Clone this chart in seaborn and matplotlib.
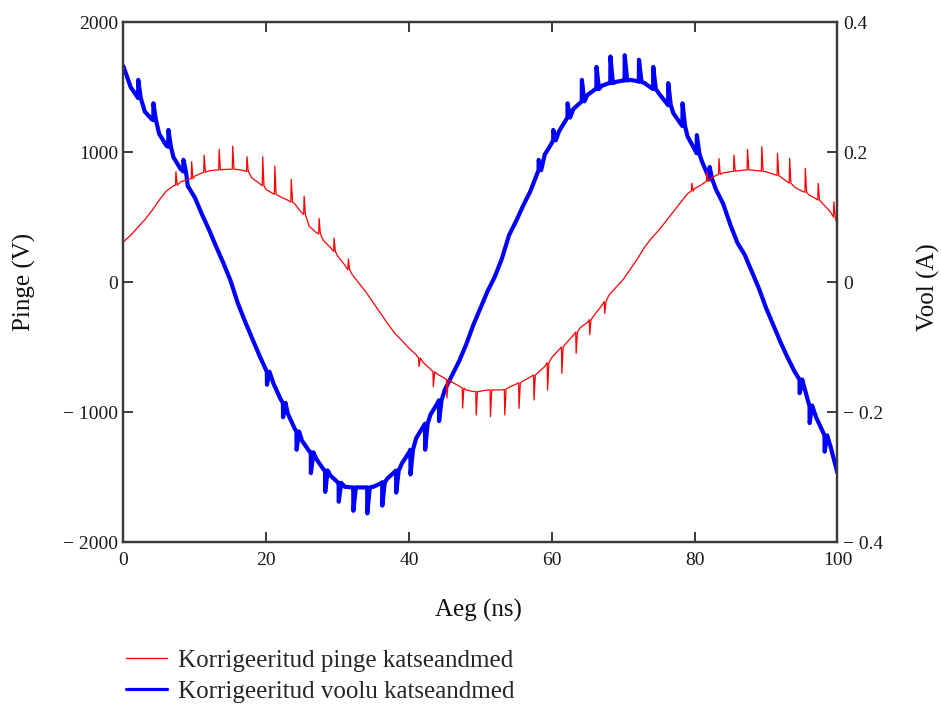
import numpy as np
import pandas as pd
import matplotlib
matplotlib.use("Agg")
import matplotlib.pyplot as plt
import seaborn as sns

# ---------------- data ----------------
# time grid of the smooth part (ns)
t_base = list(range(0, 101))

# corrected voltage (V), smooth part
pinge_base = [
    310, 360, 420, 480, 550, 630, 700, 740, 770, 790,
    815, 840, 855, 862, 866, 868, 866, 855, 800, 760,
    710, 680, 655, 630, 600, 530, 430, 380, 320, 265,
    200, 130, 60, -10, -80, -160, -240, -320, -395, -450,
    -510, -560, -620, -670, -710, -740, -770, -800, -830, -843,
    -840, -830, -830, -830, -810, -785, -760, -730, -700, -650,
    -580, -520, -470, -410, -350, -310, -250, -180, -100, -40,
    20, 100, 180, 270, 340, 400, 470, 540, 610, 680,
    720, 750, 790, 820, 840, 848, 855, 862, 862, 855,
    848, 830, 810, 770, 730, 700, 670, 640, 600, 540,
    430,
]
# voltage spikes: time, peak value, local level
pinge_spike_t = [7.35, 9.55, 11.3, 13.4, 15.3, 17.3, 19.5, 21.2, 23.5, 25.3,
                 27.4, 29.5, 31.5, 41.4, 43.4, 45.3, 47.5, 49.4, 51.4, 53.4,
                 55.4, 57.5, 59.4, 61.4, 63.4, 65.3, 67.4, 79.6, 81.7, 83.4,
                 85.5, 87.4, 89.4, 91.6, 93.3, 95.5, 97.3, 99.5]
pinge_spike_v = [848, 925, 977, 1020, 1046, 964, 964, 892, 790, 662,
                 490, 338, 177, -650, -805, -892, -970, -1023, -1036, -1023,
                 -972, -908, -831, -703, -549, -405, -241, 760, 848, 951,
                 977, 1020, 1041, 990, 951, 874, 759, 618]
pinge_spike_b = [745, 795, 845, 862, 868, 850, 740, 675, 615, 520,
                 370, 235, 95, -585, -690, -750, -815, -842, -830, -825,
                 -775, -715, -620, -500, -385, -290, -150, 700, 775, 828,
                 852, 862, 852, 820, 760, 690, 630, 500]

# corrected current (A), smooth part
vool_base = [
    0.332, 0.300, 0.284, 0.262, 0.250, 0.228, 0.210, 0.192, 0.174, 0.148,
    0.130, 0.104, 0.080, 0.054, 0.029, 0.002, -0.032, -0.060, -0.086, -0.112,
    -0.136, -0.156, -0.180, -0.202, -0.226, -0.244, -0.260, -0.272, -0.288, -0.298,
    -0.308, -0.315, -0.316, -0.316, -0.316, -0.315, -0.310, -0.302, -0.292, -0.279,
    -0.262, -0.240, -0.222, -0.204, -0.186, -0.166, -0.144, -0.122, -0.096, -0.066,
    -0.040, -0.014, 0.008, 0.036, 0.072, 0.094, 0.118, 0.140, 0.168, 0.196,
    0.214, 0.232, 0.250, 0.266, 0.276, 0.288, 0.296, 0.302, 0.306, 0.308,
    0.310, 0.311, 0.309, 0.306, 0.298, 0.290, 0.276, 0.260, 0.244, 0.224,
    0.204, 0.186, 0.160, 0.142, 0.120, 0.088, 0.060, 0.042, 0.016, -0.010,
    -0.040, -0.066, -0.092, -0.116, -0.138, -0.158, -0.188, -0.208, -0.232, -0.252,
    -0.294,
]
# current spikes: time, peak value, local level
vool_spike_t = [2.07, 4.2, 6.3, 8.4, 20.1, 22.35, 24.25, 26.25, 28.25, 30.15,
                32.2, 34.15, 36.25, 38.2, 40.2, 42.25, 44.2, 58.15, 60.2, 62.2,
                64.2, 66.25, 68.2, 70.2, 72.2, 74.2, 76.3, 78.3, 80.3, 82.1,
                94.7, 96.1, 98.2]
vool_spike_v = [0.311, 0.275, 0.234, 0.188, -0.158, -0.208, -0.258, -0.294, -0.323, -0.338,
                -0.352, -0.356, -0.344, -0.324, -0.296, -0.258, -0.214, 0.188, 0.234, 0.275,
                0.311, 0.331, 0.347, 0.349, 0.342, 0.331, 0.306, 0.275, 0.226, 0.177,
                -0.171, -0.217, -0.261]
vool_spike_b = [0.283, 0.249, 0.208, 0.170, -0.138, -0.186, -0.230, -0.262, -0.290, -0.309,
                -0.316, -0.316, -0.308, -0.290, -0.258, -0.218, -0.182, 0.172, 0.218, 0.253,
                0.278, 0.297, 0.306, 0.310, 0.308, 0.297, 0.272, 0.240, 0.198, 0.158,
                -0.150, -0.190, -0.236]

y_left_ticks = [2000, 1000, 0, -1000, -2000]
y_left_labels = ["2000", "1000", "0", "\u2212 1000", "\u2212 2000"]
y_right_ticks = [0.4, 0.2, 0, -0.2, -0.4]
y_right_labels = ["0.4", "0.2", "0", "\u2212 0.2", "\u2212 0.4"]
x_ticks = [0, 20, 40, 60, 80, 100]
x_labels = ["0", "20", "40", "60", "80", "100"]
label_pinge = "Korrigeeritud pinge katseandmed"
label_vool = "Korrigeeritud voolu katseandmed"


def build(tb, vb, st, sv, sb, before, after):
    ts = list(tb)
    vs = list(vb)
    for t, v, b in zip(st, sv, sb):
        ts += [t - before, t, t + after]
        vs += [b, v, b]
    df = pd.DataFrame({"t": ts, "v": vs}).sort_values("t").reset_index(drop=True)
    return df


df_p = build(t_base, pinge_base, pinge_spike_t, pinge_spike_v, pinge_spike_b, 0.06, 0.18)
df_i = build(t_base, vool_base, vool_spike_t, vool_spike_v, vool_spike_b, 0.02, 0.35)

# ---------------- style ----------------
sns.set_style("white")
plt.rcParams["font.family"] = ["Liberation Serif", "DejaVu Serif"]
plt.rcParams["axes.unicode_minus"] = True

fig = plt.figure(figsize=(9.41, 7.04), dpi=100)
ax = fig.add_axes([0.1312, 0.2301, 0.7588, 0.7386])
ax2 = ax.twinx()

sns.lineplot(data=df_i, x="t", y="v", ax=ax2, color="#0000FF", linewidth=3.0,
             estimator=None, sort=False, legend=False)
sns.lineplot(data=df_p, x="t", y="v", ax=ax, color="#FF0000", linewidth=0.9,
             estimator=None, sort=False, legend=False)

# red trace above blue
ax.set_zorder(ax2.get_zorder() + 1)
ax.patch.set_visible(False)

ax.set_xlim(0, 100)
ax.set_ylim(-2000, 2000)
ax2.set_ylim(-0.4, 0.4)

spine_col = "#3a3a3a"
for a in (ax, ax2):
    for s in a.spines.values():
        s.set_color(spine_col)
        s.set_linewidth(1.6)
        s.set_visible(True)

ax.set_xticks(x_ticks)
ax.set_xticklabels(x_labels)
ax.set_yticks(y_left_ticks)
ax.set_yticklabels(y_left_labels)
ax2.set_yticks(y_right_ticks)
ax2.set_yticklabels(y_right_labels)

ax.tick_params(axis="x", direction="in", length=7, width=1.4, color=spine_col,
               top=True, bottom=True, labelsize=14, pad=7, labelcolor="#1a1a1a")
ax.tick_params(axis="y", direction="in", length=7, width=1.4, color=spine_col,
               left=True, right=False, labelsize=14, pad=4, labelcolor="#1a1a1a")
ax2.tick_params(axis="y", direction="in", length=7, width=1.4, color=spine_col,
                right=True, left=False, labelsize=14, pad=4, labelcolor="#1a1a1a")

ax.set_xlabel("Aeg (ns)", fontsize=18, color="#111111")
ax.set_ylabel("Pinge (V)", fontsize=18, color="#111111")
ax2.set_ylabel("Vool (A)", fontsize=18, color="#111111")
ax.xaxis.set_label_coords(0.4965, -0.1095)
ax.yaxis.set_label_coords(-0.1225, 0.5)
ax2.yaxis.set_label_coords(1.111, 0.49)

handles = [ax.lines[0], ax2.lines[0]]
leg = fig.legend(handles, [label_pinge, label_vool], loc="upper left",
                 bbox_to_anchor=(126 / 941, 1 - 649 / 704), frameon=False,
                 fontsize=18, handlelength=1.64, handletextpad=0.44,
                 labelspacing=0.36, borderpad=0, borderaxespad=0)
leg_lines = leg.get_lines()
leg_lines[0].set_linewidth(1.0)
leg_lines[1].set_linewidth(2.3)

fig.savefig("out.png", dpi=100)
